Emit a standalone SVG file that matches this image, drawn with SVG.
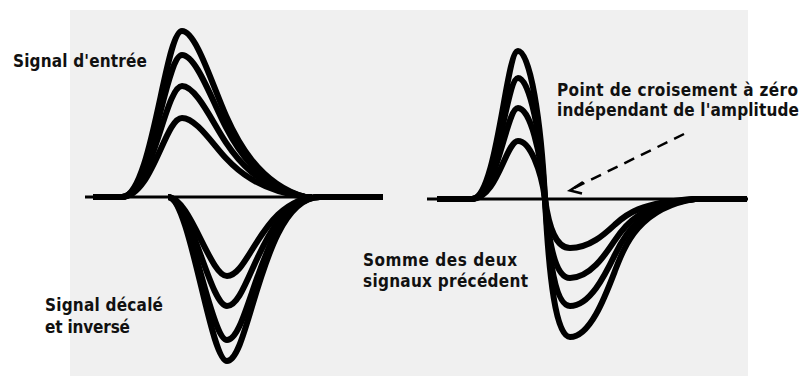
<svg xmlns="http://www.w3.org/2000/svg" width="801" height="376" viewBox="0 0 801 376">
<style>
.bg{fill:#f0f0f0}
.axis{stroke:#000;stroke-width:3;fill:none}
.sig{stroke:#000;stroke-width:6;fill:none;stroke-linejoin:round}
.lbl{font-family:"DejaVu Sans Condensed","DejaVu Sans",sans-serif;font-weight:bold;font-size:17px;fill:#111}
.dash{stroke:#000;stroke-width:2.5;fill:none;stroke-dasharray:11 7.5}
.head{stroke:#000;stroke-width:2.5;fill:none;stroke-linejoin:miter}
</style>
<rect width="801" height="376" fill="#fff"/>
<rect class="bg" x="70" y="10" width="678" height="366"/>

<g id="left-diagram">
  <line class="axis" x1="85" y1="197" x2="383" y2="197"/>
  <g id="input-signal">
    <path class="sig" d="M93,197 L122,197 C152,197 165,31 182,31 C196,31 212,84.1 226,115.7 C236,138.2 258,183.7 305,197 L312,197"/>
    <path class="sig" d="M93,197 L122,197 C152,197 165,55 182,55 C196,55 212,100.4 226,127.4 C236,146.7 258,185.6 305,197 L312,197"/>
    <path class="sig" d="M93,197 L122,197 C152,197 165,86 182,86 C196,86 212,121.5 226,142.6 C236,157.7 258,188.1 305,197 L312,197"/>
    <path class="sig" d="M93,197 L122,197 C152,197 165,118 182,118 C196,118 212,143.3 226,158.3 C236,169 258,190.7 305,197 L312,197"/>
  </g>
  <g id="delayed-inverted-signal">
    <path class="sig" d="M168,197 C190,197 210,361 227,361 C250,361 262,197 320,197 L383,197"/>
    <path class="sig" d="M168,197 C190,197 210,340 227,340 C250,340 262,197 320,197 L383,197"/>
    <path class="sig" d="M168,197 C190,197 210,306 227,306 C250,306 262,197 320,197 L383,197"/>
    <path class="sig" d="M168,197 C190,197 210,276 227,276 C250,276 262,197 320,197 L383,197"/>
  </g>
</g>

<g id="right-diagram">
  <line class="axis" x1="427" y1="199" x2="748" y2="199"/>
  <g id="sum-signal">
    <path class="sig" d="M437,199 L472,199 C497,199 506,51 518,51 C530,51 541,119 545,199 C549,279 556,337 570,337 C590,337 605,297 615,270.8 C625,244.5 640,207.3 695,199 L747,199"/>
    <path class="sig" d="M437,199 L472,199 C497,199 506,78 518,78 C530,78 541,136 545,199 C549,262 556,306 570,306 C590,306 605,275 615,254.6 C625,234.3 640,205.4 695,199 L747,199"/>
    <path class="sig" d="M437,199 L472,199 C497,199 506,108 518,108 C530,108 541,152 545,199 C549,246 556,278 570,278 C590,278 605,255.1 615,240.1 C625,225.1 640,203.7 695,199 L747,199"/>
    <path class="sig" d="M437,199 L472,199 C497,199 506,141 518,141 C530,141 541,170 545,199 C549,228 556,248 570,248 C590,248 605,233.8 615,224.5 C625,215.2 640,201.9 695,199 L747,199"/>
  </g>
</g>

<g id="connectors">
  <line class="dash" x1="684" y1="134" x2="574" y2="188"/>
  <path class="head" d="M583,182 L570,190.5 L582,193.5"/>
</g>

<g id="label-input">
  <text class="lbl" x="13" y="67" textLength="134" lengthAdjust="spacing">Signal d'entrée</text>
</g>
<g id="label-delayed">
  <text class="lbl" x="45" y="311" textLength="118" lengthAdjust="spacing">Signal décalé</text>
  <text class="lbl" x="45" y="333" textLength="85" lengthAdjust="spacing">et inversé</text>
</g>
<g id="label-sum">
  <text class="lbl" x="363" y="266" textLength="154" lengthAdjust="spacing">Somme des deux</text>
  <text class="lbl" x="363" y="287" textLength="165" lengthAdjust="spacing">signaux précédent</text>
</g>
<g id="label-zero-cross">
  <text class="lbl" x="557" y="96" textLength="241" lengthAdjust="spacing">Point de croisement à zéro</text>
  <text class="lbl" x="557" y="116" textLength="242" lengthAdjust="spacing">indépendant de l'amplitude</text>
</g>
</svg>
